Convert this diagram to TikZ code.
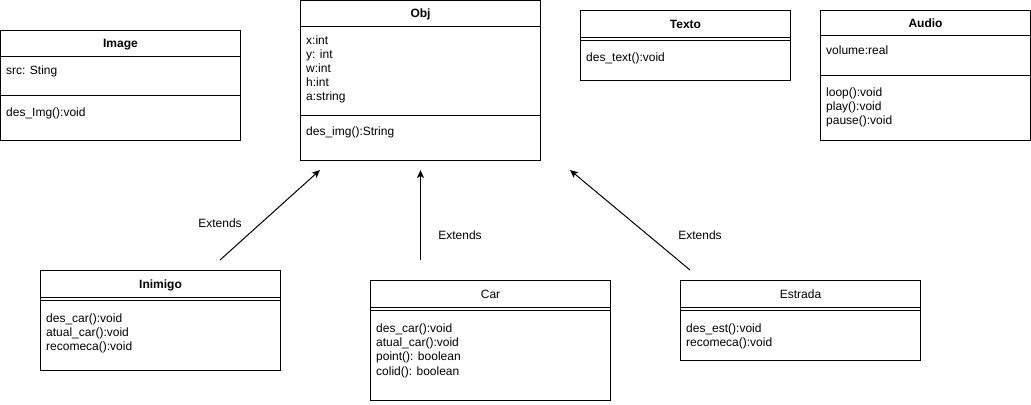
\documentclass[tikz,border=0pt]{standalone}
\usepackage{fontspec}
\setmainfont{Liberation Sans}
\usetikzlibrary{arrows.meta}
\begin{document}
\begin{tikzpicture}[x=1bp,y=-1bp,
  classbox/.style={draw=black, line width=1bp, fill=white, inner sep=0pt, outer sep=0pt, anchor=north west},
  classname/.style={anchor=base, inner sep=0pt, font=\fontsize{12bp}{14bp}\selectfont\bfseries},
  plainname/.style={anchor=base, inner sep=0pt, font=\fontsize{12bp}{14bp}\selectfont},
  member/.style={anchor=base west, inner sep=0pt, font=\fontsize{12bp}{14bp}\selectfont},
  extlabel/.style={anchor=base, inner sep=0pt, font=\fontsize{12bp}{14bp}\selectfont},
  divider/.style={draw=black, line width=1bp},
  extends/.style={draw=black, line width=1bp, -{Stealth[length=8bp,width=7bp,inset=2bp]}}]
\useasboundingbox (0,0) rectangle (1031,404);

% ---- Image ----
\node[classbox, minimum width=240bp, minimum height=110bp] (image) at (0.5,30.5) {};
\draw[divider] (0.5,56.5) -- (240.5,56.5);
\draw[divider] (0.5,95.5) -- (240.5,95.5);
\node[classname] (image-name) at (120.5,47.5) {Image};
\node[member] (image-a1) at (6,74) {src: Sting};
\node[member] (image-m1) at (6,116.5) {des\_Img():void};

% ---- Obj ----
\node[classbox, minimum width=240bp, minimum height=160bp] (obj) at (300.5,0.5) {};
\draw[divider] (300.5,26.5) -- (540.5,26.5);
\draw[divider] (300.5,115.5) -- (540.5,115.5);
\node[classname] (obj-name) at (420.5,17.5) {Obj};
\node[member] (obj-a1) at (306,44) {x:int};
\node[member] (obj-a2) at (306,58) {y: int};
\node[member] (obj-a3) at (306,72.3) {w:int};
\node[member] (obj-a4) at (306,86.5) {h:int};
\node[member] (obj-a5) at (306,100.7) {a:string};
\node[member] (obj-m1) at (306,135.7) {des\_img():String};

% ---- Texto ----
\node[classbox, minimum width=210bp, minimum height=70bp] (texto) at (580.5,10.5) {};
\draw[divider] (580.5,37.5) -- (790.5,37.5);
\draw[divider] (580.5,40.5) -- (790.5,40.5);
\node[classname] (texto-name) at (685.5,28) {Texto};
\node[member] (texto-m1) at (586,61) {des\_text():void};

% ---- Audio ----
\node[classbox, minimum width=210bp, minimum height=130bp] (audio) at (820.5,10.5) {};
\draw[divider] (820.5,35.5) -- (1030.5,35.5);
\draw[divider] (820.5,75.5) -- (1030.5,75.5);
\node[classname] (audio-name) at (925.5,27) {Audio};
\node[member] (audio-a1) at (826,54) {volume:real};
\node[member] (audio-m1) at (826,96.5) {loop():void};
\node[member] (audio-m2) at (826,110.5) {play():void};
\node[member] (audio-m3) at (826,124.7) {pause():void};

% ---- Inimigo ----
\node[classbox, minimum width=240bp, minimum height=100bp] (inimigo) at (40.5,270.5) {};
\draw[divider] (40.5,297.5) -- (280.5,297.5);
\draw[divider] (40.5,300.5) -- (280.5,300.5);
\node[classname] (inimigo-name) at (160.5,288) {Inimigo};
\node[member] (inimigo-m1) at (46,322) {des\_car():void};
\node[member] (inimigo-m2) at (46,336.5) {atual\_car():void};
\node[member] (inimigo-m3) at (46,350.7) {recomeca():void};

% ---- Car ----
\node[classbox, minimum width=240bp, minimum height=120bp] (car) at (370.5,280.5) {};
\draw[divider] (370.5,307.5) -- (610.5,307.5);
\draw[divider] (370.5,310.5) -- (610.5,310.5);
\node[plainname] (car-name) at (490.5,298) {Car};
\node[member] (car-m1) at (376,332) {des\_car():void};
\node[member] (car-m2) at (376,346.3) {atual\_car():void};
\node[member] (car-m3) at (376,360.5) {point(): boolean};
\node[member] (car-m4) at (376,375) {colid(): boolean};

% ---- Estrada ----
\node[classbox, minimum width=240bp, minimum height=80bp] (estrada) at (680.5,280.5) {};
\draw[divider] (680.5,307.5) -- (920.5,307.5);
\draw[divider] (680.5,310.5) -- (920.5,310.5);
\node[plainname] (estrada-name) at (800.5,298) {Estrada};
\node[member] (estrada-m1) at (686,332) {des\_est():void};
\node[member] (estrada-m2) at (686,346.3) {recomeca():void};

% ---- generalisations ----
\coordinate (inimigo-src) at (220,260);
\coordinate (inimigo-dst) at (320,170);
\coordinate (car-src) at (420.5,260);
\coordinate (car-dst) at (420.5,170);
\coordinate (estrada-src) at (690,270);
\coordinate (estrada-dst) at (570,170);
\draw[extends] (inimigo-src) -- (inimigo-dst);
\draw[extends] (car-src) -- (car-dst);
\draw[extends] (estrada-src) -- (estrada-dst);
\node[extlabel] (inimigo-ext) at (220,227.5) {Extends};
\node[extlabel] (car-ext) at (460,239.5) {Extends};
\node[extlabel] (estrada-ext) at (700,239.5) {Extends};
\end{tikzpicture}
\end{document}
